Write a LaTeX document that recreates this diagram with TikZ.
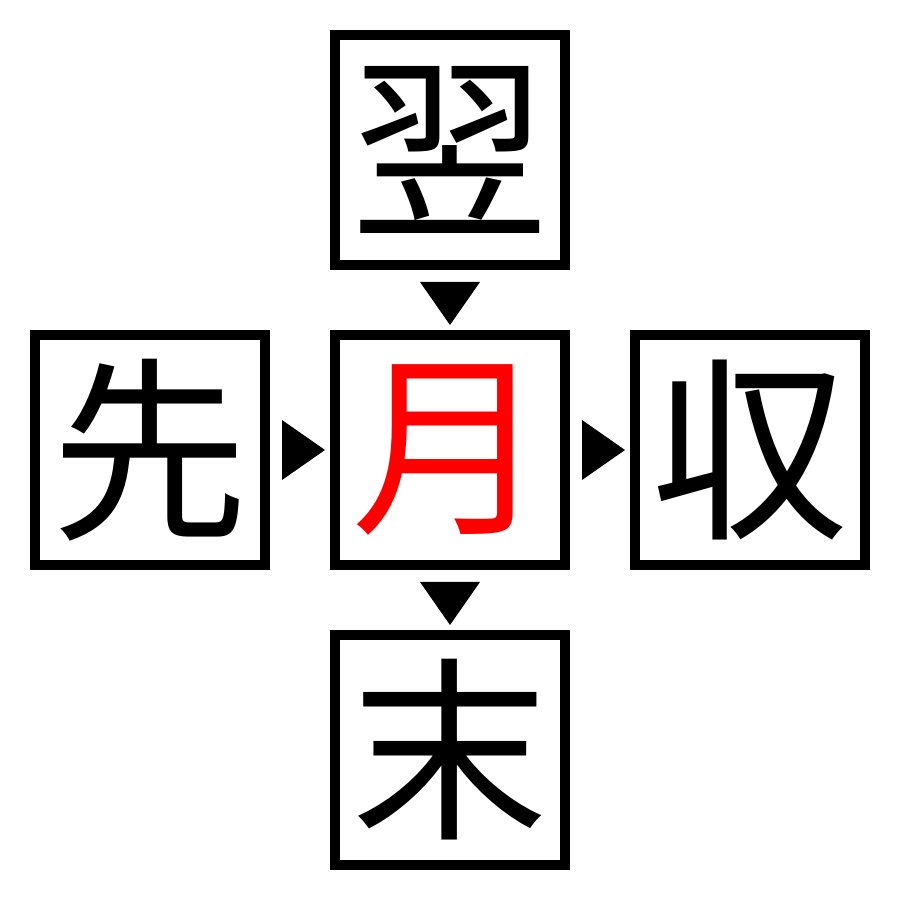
\documentclass[tikz,border=0pt]{standalone}
\usepackage{fontspec}
\usepackage{xcolor}
\newfontfamily\jpfont{Noto Sans CJK JP}
\usetikzlibrary{positioning, calc}

\begin{document}
\begin{tikzpicture}[
    kbox/.style={draw, line width=0.1cm, minimum size=2.3cm, inner sep=0pt,
      font=\jpfont\fontsize{56}{56}\selectfont}
  ]
      \useasboundingbox (0,0) rectangle (9,9);
      \node[kbox] (mid) at (4.5,4.5) {\textcolor{red}{月}};
      \node[kbox] (top) at (4.5,7.5) {翌};
      \node[kbox] (left) at (1.5,4.5) {先};
      \node[kbox] (right) at (7.5,4.5) {収};
      \node[kbox] (bottom) at (4.5,1.5) {末};
      % triangles
      \fill ($(mid.north)+(-0.3,0.48)$) -- ($(mid.north)+(0.3,0.48)$) -- ($(mid.north)+(0,0.05)$) -- cycle;
      \fill ($(bottom.north)+(-0.3,0.48)$) -- ($(bottom.north)+(0.3,0.48)$) -- ($(bottom.north)+(0,0.05)$) -- cycle;
      \fill ($(mid.west)+(-0.48,0.3)$) -- ($(mid.west)+(-0.48,-0.3)$) -- ($(mid.west)+(-0.05,0)$) -- cycle;
      \fill ($(right.west)+(-0.48,0.3)$) -- ($(right.west)+(-0.48,-0.3)$) -- ($(right.west)+(-0.05,0)$) -- cycle;
\end{tikzpicture}
\end{document}
